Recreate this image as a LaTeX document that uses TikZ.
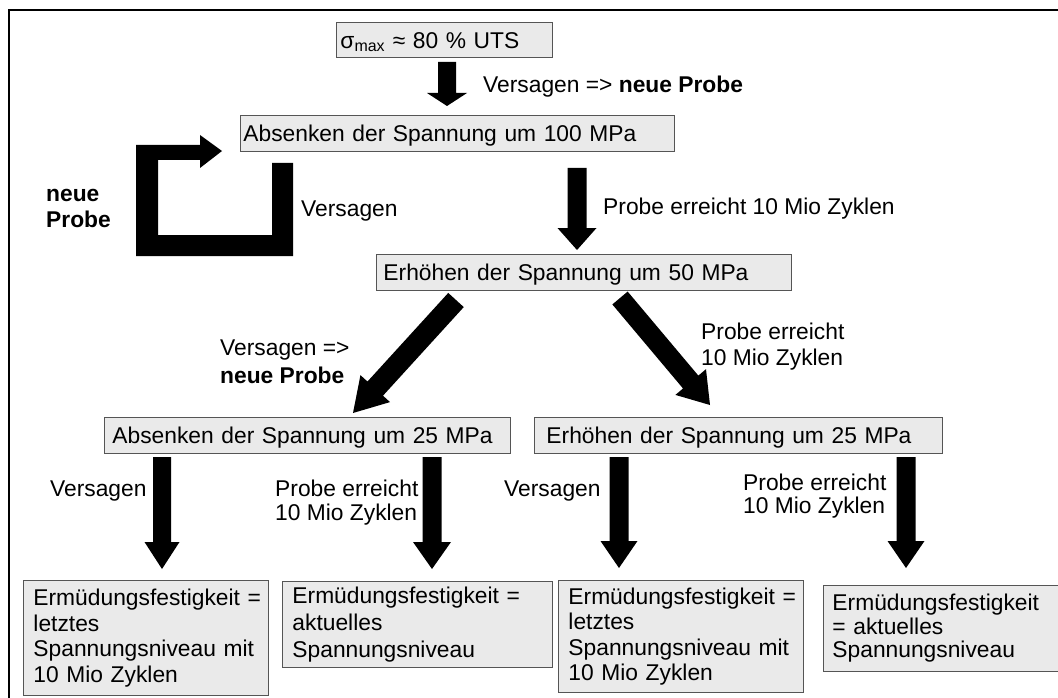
\documentclass[tikz,border=0pt]{standalone}
\usepackage{fontspec}
\setmainfont{Liberation Sans}
\usetikzlibrary{calc}
\definecolor{boxfill}{RGB}{234,234,234}
\definecolor{boxline}{RGB}{85,85,85}
\newcommand\fsz{\fontsize{22.8}{26}\selectfont}
\newcommand\blockarr[5]{%
  \path ($(#2)!#5!(#1)$) coordinate (bh);
  \fill[black] ($(#1)!#3!90:(#2)$) -- ($(bh)!#3!-90:(#1)$) -- ($(bh)!#4!-90:(#1)$)
     -- (#2) -- ($(bh)!#4!90:(#1)$) -- ($(bh)!#3!90:(#1)$) -- ($(#1)!#3!-90:(#2)$) -- cycle;
}
\begin{document}
\begin{tikzpicture}[x=1pt,y=-1pt,
  every node/.append style={font=\fsz},
  box/.style={draw=boxline, fill=boxfill, line width=0.9pt, anchor=north west,
    align=left, inner ysep=0pt},
  onel/.style={text height=16.4pt, text depth=0pt},
  lab/.style={anchor=base west, inner sep=0pt, align=left}]
\useasboundingbox (0,0) rectangle (1058,698);
\fill[white] (0,0) rectangle (1058,698);
% frame (left and top edges)
\draw[line width=2.5pt] (9,700) -- (9,10) -- (1060,10);

% boxes
\node[box, onel, inner xsep=4pt, text width=208pt, minimum height=35pt] (top) at (336,22)
  {σ\textsubscript{max} ≈ 80 \% UTS};
\node[box, onel, inner xsep=3pt, text width=428pt, minimum height=36pt] (b2) at (240,115)
  {Absenken der Spannung um 100 MPa};
\node[box, onel, inner xsep=7pt, text width=401pt, minimum height=36pt] (b3) at (376,254)
  {Erhöhen der Spannung um 50 MPa};
\node[box, onel, inner xsep=8pt, text width=390pt, minimum height=36pt] (b4) at (104,417)
  {Absenken der Spannung um 25 MPa};
\node[box, onel, inner xsep=12pt, text width=384pt, minimum height=36pt] (b5) at (534,417)
  {Erhöhen der Spannung um 25 MPa};
\node[box, inner xsep=10pt, text width=225pt, minimum height=115pt,
  font=\fontsize{22.8}{25.5}\selectfont] (b6) at (23,580)
  {\mbox{Ermüdungsfestigkeit =}\\letztes\\\mbox{Spannungsniveau mit}\\10 Mio Zyklen};
\node[box, inner xsep=10pt, text width=250pt, minimum height=86pt,
  font=\fontsize{22.8}{27}\selectfont] (b7) at (282,581)
  {\mbox{Ermüdungsfestigkeit =}\\aktuelles\\Spannungsniveau};
\node[box, inner xsep=10pt, text width=225pt, minimum height=112pt,
  font=\fontsize{22.8}{25.5}\selectfont] (b8) at (558,580)
  {\mbox{Ermüdungsfestigkeit =}\\letztes\\\mbox{Spannungsniveau mit}\\10 Mio Zyklen};
\node[box, inner xsep=9pt, text width=222pt, minimum height=86pt,
  font=\fontsize{22.8}{23.5}\selectfont] (b9) at (823,585)
  {Ermüdungsfestigkeit\\= aktuelles\\Spannungsniveau};

% labels (base = baseline of last line)
\node[lab] (l1) at (483,92.2) {Versagen => \textbf{neue Probe}};
\node[lab] (l2) at (46,227.2) {\textbf{neue}\\\textbf{Probe}};
\node[lab] (l3) at (301,216.2) {Versagen};
\node[lab] (l4) at (603,214.2) {Probe erreicht 10 Mio Zyklen};
\node[lab, font=\fontsize{22.8}{28}\selectfont] (l5) at (220,383.2) {Versagen =>\\\textbf{neue Probe}};
\node[lab] (l6) at (701,365.2) {Probe erreicht\\10 Mio Zyklen};
\node[lab] (l7) at (50,496.2) {Versagen};
\node[lab, font=\fontsize{22.8}{24}\selectfont] (l8) at (275,520.2) {Probe erreicht\\10 Mio Zyklen};
\node[lab] (l9) at (504,496.2) {Versagen};
\node[lab, font=\fontsize{22.8}{23}\selectfont] (l10) at (743,513.2) {Probe erreicht\\10 Mio Zyklen};

% arrow end points
\coordinate (a1s) at (447,62);   \coordinate (a1e) at (447,106);
\coordinate (a2s) at (577,168);  \coordinate (a2e) at (577,250);
\coordinate (a3s) at (456,300);  \coordinate (a3e) at (353,413);
\coordinate (a4s) at (620,298);  \coordinate (a4e) at (710,405);
\coordinate (a5s) at (162,457);  \coordinate (a5e) at (162,569);
\coordinate (a6s) at (432,457);  \coordinate (a6e) at (432,569);
\coordinate (a7s) at (619,457);  \coordinate (a7e) at (619,568);
\coordinate (a8s) at (906,457);  \coordinate (a8e) at (906,568);

\blockarr{a1s}{a1e}{9pt}{20pt}{13pt}
\blockarr{a2s}{a2e}{9.5pt}{19.5pt}{22pt}
\blockarr{a3s}{a3e}{10.5pt}{20pt}{33pt}
\blockarr{a4s}{a4e}{10pt}{20pt}{30pt}
\blockarr{a5s}{a5e}{9pt}{17.5pt}{27pt}
\blockarr{a6s}{a6e}{9.5pt}{19pt}{27pt}
\blockarr{a7s}{a7e}{9.5pt}{18.5pt}{27pt}
\blockarr{a8s}{a8e}{9.5pt}{18.5pt}{27pt}

% loop arrow (Versagen -> back to Absenken)
\fill[black] (272,163) -- (293,163) -- (293,256) -- (136,256) -- (136,145)
  -- (200,145) -- (200,135) -- (222,151) -- (200,168) -- (200,160)
  -- (158,160) -- (158,235) -- (272,235) -- cycle;
\end{tikzpicture}
\end{document}
